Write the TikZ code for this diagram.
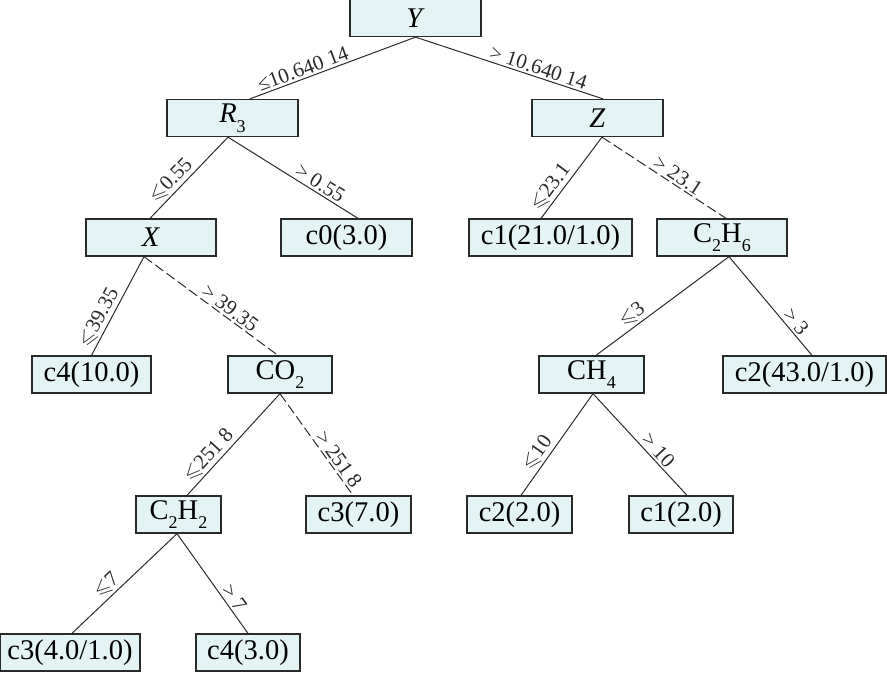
\documentclass[tikz,border=0pt]{standalone}
\usepackage{fontspec}
\usepackage{amssymb}
\setmainfont{Liberation Serif}
\definecolor{boxfill}{HTML}{E4F4F4}
\definecolor{linec}{HTML}{2A2A2A}
\newcommand\mysub[1]{\raisebox{-0.34em}{\fontsize{18}{18}\selectfont #1}}
\tikzset{
 box/.style={draw=linec, line width=1.3pt, fill=boxfill, rectangle, inner sep=0pt,
   minimum height=37pt, font=\fontsize{28.5}{30}\selectfont},
 lbl/.style={sloped, above, inner sep=2pt, font=\fontsize{21}{22}\selectfont, pos=0.62, text=linec},
 edgeline/.style={line width=1pt, draw=linec},
 dedge/.style={edgeline, dash pattern=on 10pt off 4pt},
}
\begin{document}
\begin{tikzpicture}[x=1pt,y=-1pt]
\useasboundingbox (0,0) rectangle (887,694);
% level 0
\node[box, minimum width=131pt] (Y) at (415.5,18) {\textit{Y}};
% level 1
\node[box, minimum width=131pt] (R3) at (232.5,118) {\textit{R}\mysub{3}};
\node[box, minimum width=131pt] (Z) at (597.5,118) {\textit{Z}};
% level 2
\node[box, minimum width=130pt] (X) at (151,237.5) {\textit{X}};
\node[box, minimum width=131pt] (c0) at (346.5,237.5) {c0(3.0)};
\node[box, minimum width=163pt] (c1a) at (550.5,237.5) {c1(21.0/1.0)};
\node[box, minimum width=130pt] (C2H6) at (722,237.5) {C\mysub{2}H\mysub{6}};
% level 3
\node[box, minimum width=119pt] (c4a) at (91.5,374.5) {c4(10.0)};
\node[box, minimum width=104pt] (CO2) at (280,374.5) {CO\mysub{2}};
\node[box, minimum width=105pt] (CH4) at (591.5,374.5) {CH\mysub{4}};
\node[box, minimum width=163pt] (c2a) at (804.5,374.5) {c2(43.0/1.0)};
% level 4
\node[box, minimum width=85pt] (C2H2) at (178.5,514.5) {C\mysub{2}H\mysub{2}};
\node[box, minimum width=105pt] (c3a) at (358.5,514.5) {c3(7.0)};
\node[box, minimum width=105pt] (c2b) at (519.5,514.5) {c2(2.0)};
\node[box, minimum width=104pt] (c1b) at (681,514.5) {c1(2.0)};
% level 5
\node[box, minimum width=140pt] (c3b) at (70,652.5) {c3(4.0/1.0)};
\node[box, minimum width=104pt] (c4b) at (248,652.5) {c4(3.0)};
% edges
\draw[edgeline] (Y.south) -- node[lbl, pos=0.66]{≤10.640 14} ([xshift=17.5pt]R3.north);
\draw[edgeline] (Y.south) -- node[lbl, pos=0.64]{> 10.640 14} ([xshift=5.5pt]Z.north);
\draw[edgeline] ([xshift=-4.5pt]R3.south) -- node[lbl, pos=0.63]{$\leqslant$0.55} ([xshift=-1pt]X.north);
\draw[edgeline] ([xshift=-4.5pt]R3.south) -- node[lbl, pos=0.67]{> 0.55} ([xshift=11.5pt]c0.north);
\draw[edgeline] ([xshift=-7pt]X.south) -- node[lbl, pos=0.67]{$\leqslant$39.35} (c4a.north);
\draw[dedge] ([xshift=-7pt]X.south) -- node[lbl, pos=0.6]{> 39.35} ([xshift=-2pt]CO2.north);
\draw[edgeline] (CO2.south) -- node[lbl, pos=0.68]{$\leqslant$251 8} ([xshift=8.5pt]C2H2.north);
\draw[dedge] (CO2.south) -- node[lbl, pos=0.7]{> 251 8} ([xshift=-5.5pt]c3a.north);
\draw[edgeline] ([xshift=-1.5pt]C2H2.south) -- node[lbl, pos=0.6]{$\leqslant$7} ([xshift=2pt]c3b.north);
\draw[edgeline] ([xshift=-1.5pt]C2H2.south) -- node[lbl, pos=0.7]{> 7} (c4b.north);
\draw[edgeline] ([xshift=4.5pt]Z.south) -- node[lbl, pos=0.7]{$\leqslant$23.1} ([xshift=-9.5pt]c1a.north);
\draw[dedge] ([xshift=4.5pt]Z.south) -- node[lbl, pos=0.57]{> 23.1} ([xshift=4pt]C2H6.north);
\draw[edgeline] ([xshift=7pt]C2H6.south) -- node[lbl, pos=0.68]{$\leqslant$3} ([xshift=4.5pt]CH4.north);
\draw[edgeline] ([xshift=7pt]C2H6.south) -- node[lbl, pos=0.72]{> 3} ([xshift=7.5pt]c2a.north);
\draw[edgeline] ([xshift=1.5pt]CH4.south) -- node[lbl, pos=0.65]{$\leqslant$10} ([xshift=1.5pt]c2b.north);
\draw[edgeline] ([xshift=1.5pt]CH4.south) -- node[lbl, pos=0.62]{> 10} ([xshift=6pt]c1b.north);
\end{tikzpicture}
\end{document}
